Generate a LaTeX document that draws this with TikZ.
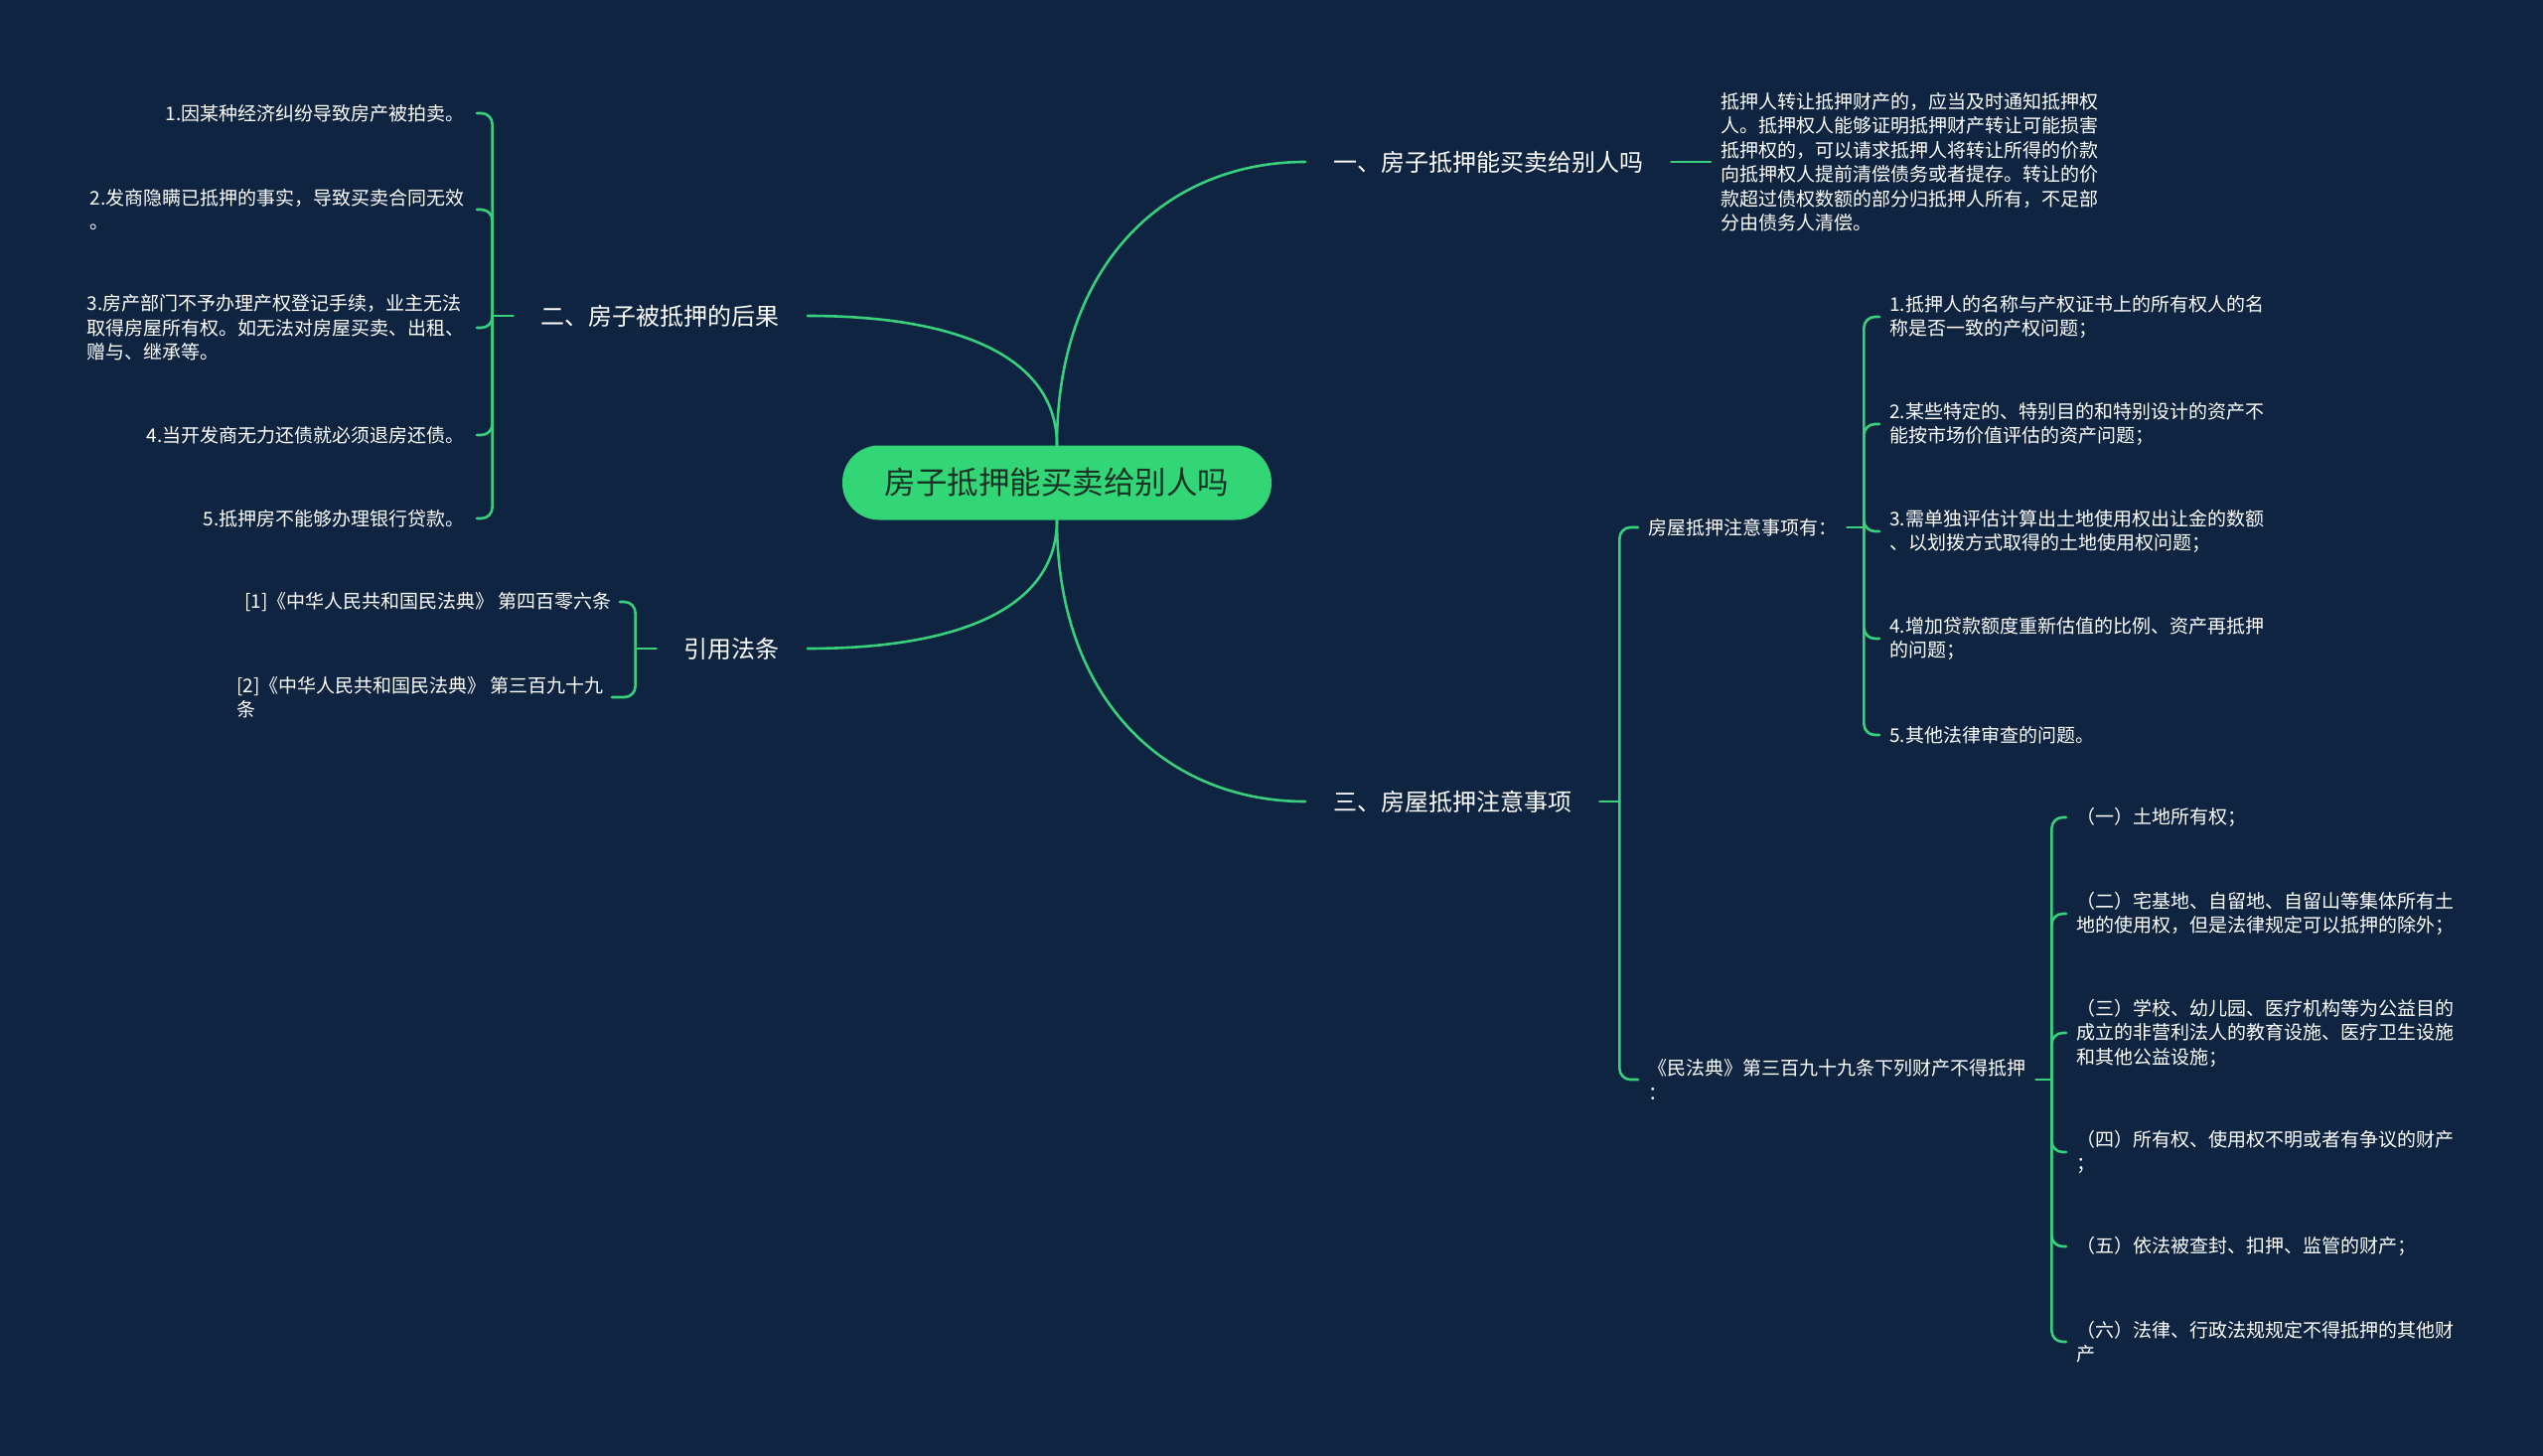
\documentclass[tikz,border=0pt]{standalone}
\usepackage{fontspec}
\setmainfont{Noto Sans CJK SC}
\usetikzlibrary{calc}
\definecolor{bg}{HTML}{0F2440}
\definecolor{lk}{HTML}{38D07C}
\definecolor{rootfill}{HTML}{32D677}
\definecolor{roottext}{HTML}{173325}
\begin{document}
\begin{tikzpicture}[x=1pt,y=-1pt,
  link/.style={draw=lk, line width=2.6pt, line cap=round},
  brk/.style={draw=lk, line width=2.6pt, rounded corners=11pt, line cap=round},
  rootnode/.style={rectangle, rounded corners=37pt, fill=rootfill, minimum width=432pt, minimum height=75pt, text=roottext, font=\fontsize{31.5}{36}\selectfont, inner sep=0pt},
  mainb/.style={text=white, font=\fontsize{24}{30}\selectfont, inner xsep=28pt, inner ysep=4pt},
  leaf/.style={text=white, font=\fontsize{19}{24.5}\selectfont, inner xsep=10pt, inner ysep=3pt, align=left},
]
\fill[bg] (0,0) rectangle (2560,1466);
\useasboundingbox (0,0) rectangle (2560,1466);

% root
\node[rootnode] (root) at (1064,486) {房子抵押能买卖给别人吗};

% branch 1
\node[mainb, anchor=west] (b1) at (1314,163) {一、房子抵押能买卖给别人吗};
\node[leaf, anchor=west] (p1) at (1722,163) {抵押人转让抵押财产的，应当及时通知抵押权\\人。抵押权人能够证明抵押财产转让可能损害\\抵押权的，可以请求抵押人将转让所得的价款\\向抵押权人提前清偿债务或者提存。转让的价\\款超过债权数额的部分归抵押人所有，不足部\\分由债务人清偿。};

% branch 2
\node[mainb, anchor=east] (b2) at (813,318) {二、房子被抵押的后果};
\coordinate (j2) at ([xshift=-21pt]b2.west);
\node[leaf, anchor=east, inner xsep=12pt] (l1) at (480,114) {1.因某种经济纠纷导致房产被拍卖。};
\node[leaf, anchor=east, inner xsep=12pt] (l2) at (480,211) {2.发商隐瞒已抵押的事实，导致买卖合同无效\\。};
\node[leaf, anchor=east, inner xsep=12pt] (l3) at (480,330) {3.房产部门不予办理产权登记手续，业主无法\\取得房屋所有权。如无法对房屋买卖、出租、\\赠与、继承等。};
\node[leaf, anchor=east, inner xsep=12pt] (l4) at (480,438) {4.当开发商无力还债就必须退房还债。};
\node[leaf, anchor=east, inner xsep=12pt] (l5) at (480,522) {5.抵押房不能够办理银行贷款。};

% branch 3 (citations)
\node[mainb, anchor=east] (b3) at (813,653) {引用法条};
\coordinate (j3) at ([xshift=-21pt]b3.west);
\node[leaf, anchor=east, inner xsep=8pt] (r1) at (624,606) {[1]《中华人民共和国民法典》 第四百零六条};
\node[leaf, anchor=east, inner xsep=8pt] (r2) at (616,702) {[2]《中华人民共和国民法典》 第三百九十九\\条};

% branch 4
\node[mainb, anchor=west] (b4) at (1314,807) {三、房屋抵押注意事项};
\coordinate (j4) at ([xshift=20pt]b4.east);
\node[leaf, anchor=west] (s1) at (1649,531) {房屋抵押注意事项有：};
\node[leaf, anchor=west] (s2) at (1649,1087) {《民法典》第三百九十九条下列财产不得抵押\\：};
\coordinate (j5) at ([xshift=17pt]s1.east);
\coordinate (j6) at ([xshift=16pt]s2.east);

\node[leaf, anchor=west] (t1) at (1892,319) {1.抵押人的名称与产权证书上的所有权人的名\\称是否一致的产权问题；};
\node[leaf, anchor=west] (t2) at (1892,427) {2.某些特定的、特别目的和特别设计的资产不\\能按市场价值评估的资产问题；};
\node[leaf, anchor=west] (t3) at (1892,535) {3.需单独评估计算出土地使用权出让金的数额\\、以划拨方式取得的土地使用权问题；};
\node[leaf, anchor=west] (t4) at (1892,643) {4.增加贷款额度重新估值的比例、资产再抵押\\的问题；};
\node[leaf, anchor=west] (t5) at (1892,740) {5.其他法律审查的问题。};

\node[leaf, anchor=west] (u1) at (2080,823) {（一）土地所有权；};
\node[leaf, anchor=west] (u2) at (2080,920) {（二）宅基地、自留地、自留山等集体所有土\\地的使用权，但是法律规定可以抵押的除外；};
\node[leaf, anchor=west] (u3) at (2080,1040) {（三）学校、幼儿园、医疗机构等为公益目的\\成立的非营利法人的教育设施、医疗卫生设施\\和其他公益设施；};
\node[leaf, anchor=west] (u4) at (2080,1160) {（四）所有权、使用权不明或者有争议的财产\\；};
\node[leaf, anchor=west] (u5) at (2080,1255) {（五）依法被查封、扣押、监管的财产；};
\node[leaf, anchor=west] (u6) at (2080,1351) {（六）法律、行政法规规定不得抵押的其他财\\产};

% connectors from root
\draw[link] (root.north) .. controls +(0,-186) and +(-137,0) .. (b1.west);
\draw[link] (root.north) .. controls +(0,-85) and +(160,0) .. (b2.east);
\draw[link] (root.south) .. controls +(0,85) and +(160,0) .. (b3.east);
\draw[link] (root.south) .. controls +(0,184) and +(-137,0) .. (b4.west);

\draw[link] (b1.east) -- (p1.west);

\draw[link] (b2.west) -- (j2);
\foreach \n in {l1,l2,l3,l4,l5} \draw[brk] (j2) |- (\n.east);

\draw[link] (b3.west) -- (j3);
\foreach \n in {r1,r2} \draw[brk] (j3) |- (\n.east);

\draw[link] (b4.east) -- (j4);
\foreach \n in {s1,s2} \draw[brk] (j4) |- (\n.west);

\draw[link] (s1.east) -- (j5);
\foreach \n in {t1,t2,t3,t4,t5} \draw[brk] (j5) |- (\n.west);

\draw[link] (s2.east) -- (j6);
\foreach \n in {u1,u2,u3,u4,u5,u6} \draw[brk] (j6) |- (\n.west);
\end{tikzpicture}
\end{document}
